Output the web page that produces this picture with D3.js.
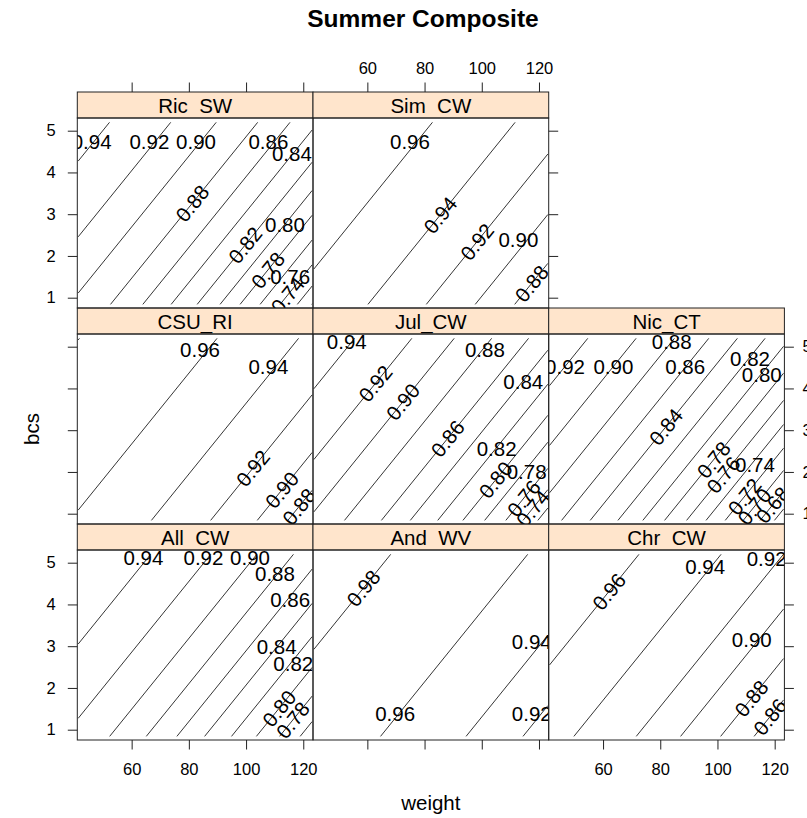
<!DOCTYPE html>
<html>
<head>
<meta charset="utf-8">
<script src="https://cdn.jsdelivr.net/npm/d3@7"></script>
<style>
  body { margin: 0; background: #fff; }
  svg { display: block; }
  text { font-family: "Liberation Sans", Arial, Helvetica, sans-serif; fill: #000; }
</style>
</head>
<body>
<svg id="chart" width="807" height="818"></svg>
<script>
// Panels in lattice order (filled from the bottom-left, row by row)
const panelNames = ["All  CW", "And  WV", "Chr  CW", "CSU_RI", "Jul_CW", "Nic_CT", "Ric  SW", "Sim  CW"];
const panelRow = [2, 2, 2, 1, 1, 1, 0, 0];   // 0 = top row
const panelCol = [0, 1, 2, 0, 1, 2, 0, 1];

const xTicks = [60, 80, 100, 120];
const yTicks = [1, 2, 3, 4, 5];
const xDomain = [41, 123.4];
const yDomain = [0.753, 5.304];
// extent of the fitted grid the contours were traced on
const weightRange = [41.3, 123.1];
const bcsRange = [0.84, 5.2];

// contour levels drawn in each panel
const levels = [
  [0.94, 0.92, 0.90, 0.88, 0.86, 0.84, 0.82, 0.80, 0.78, 0.76],
  [0.98, 0.96, 0.94, 0.92],
  [0.96, 0.94, 0.92, 0.90, 0.88, 0.86],
  [0.98, 0.96, 0.94, 0.92, 0.90, 0.88],
  [0.94, 0.92, 0.90, 0.88, 0.86, 0.84, 0.82, 0.80, 0.78, 0.76, 0.74, 0.72],
  [0.92, 0.90, 0.88, 0.86, 0.84, 0.82, 0.80, 0.78, 0.76, 0.74, 0.72, 0.70, 0.68, 0.66],
  [0.94, 0.92, 0.90, 0.88, 0.86, 0.84, 0.82, 0.80, 0.78, 0.76, 0.74, 0.72, 0.70],
  [0.96, 0.94, 0.92, 0.90, 0.88]
];
// weight at which each contour level crosses bcs = 5
const weightAtBcs5 = [
  [64.3, 85.3, 101.4, 114.2, 124.9, 134.6, 144.0, 152.7, 160.8, 168.0],
  [65.8, 113.7, 143.6, 163.5],
  [70.2, 98.9, 120.7, 136.2, 150.2, 161.9],
  [39.4, 87.5, 116.0, 136.7, 153.0, 163.7],
  [53.2, 73.2, 88.0, 101.1, 114.0, 124.1, 133.7, 142.5, 150.1, 157.5, 163.5, 168.7],
  [52.3, 69.2, 82.6, 94.6, 104.6, 114.3, 123.0, 130.6, 138.3, 145.1, 151.8, 158.1, 164.0, 169.0],
  [49.9, 71.3, 87.2, 101.7, 113.0, 122.9, 132.0, 140.0, 147.0, 154.0, 161.0, 167.0, 172.0],
  [80.4, 109.3, 129.7, 146.8, 160.6]
];
// change in weight per unit of bcs along the contours of each panel
const contourSlope = [11.8, 11.8, 11.8, 11.8, 11.8, 11.8, 11.8, 11.8];

// contour labels: [level, weight, bcs, rotated along the line]
const contourLabels = [
  [[0.94, 64.1, 5.13, 0], [0.92, 85.1, 5.13, 0], [0.90, 101.4, 5.13, 0], [0.88, 110.1, 4.74, 0],
   [0.86, 115.4, 4.12, 0], [0.84, 110.7, 2.99, 0], [0.82, 116.5, 2.59, 0], [0.80, 112.4, 1.51, 1],
   [0.78, 117.7, 1.23, 1]],
  [[0.98, 57.4, 4.39, 1], [0.96, 69.7, 1.39, 0], [0.94, 117.5, 3.11, 0], [0.92, 117.5, 1.39, 0]],
  [[0.96, 58.9, 4.31, 1], [0.94, 95.7, 4.90, 0], [0.92, 117.2, 5.10, 0], [0.90, 112.0, 3.15, 0],
   [0.88, 108.5, 1.75, 1], [0.86, 116.0, 1.31, 1]],
  [[0.96, 83.9, 4.94, 0], [0.94, 107.8, 4.52, 0], [0.92, 100.2, 2.09, 1], [0.90, 110.7, 1.57, 1],
   [0.88, 118.3, 1.17, 1]],
  [[0.94, 52.8, 5.12, 0], [0.92, 61.5, 4.12, 1], [0.90, 72.6, 3.68, 1], [0.88, 101.1, 4.94, 0],
   [0.86, 88.3, 2.80, 1], [0.84, 114.5, 4.16, 0], [0.82, 105.2, 2.56, 0], [0.80, 105.2, 1.81, 1],
   [0.78, 115.7, 2.01, 0], [0.76, 115.1, 1.37, 1], [0.74, 118.6, 1.13, 1]],
  [[0.92, 46.7, 4.52, 0], [0.90, 63.6, 4.52, 0], [0.88, 84.0, 5.12, 0], [0.86, 88.7, 4.52, 0],
   [0.84, 82.2, 3.08, 1], [0.82, 111.4, 4.72, 0], [0.80, 115.5, 4.32, 0], [0.78, 98.6, 2.29, 1],
   [0.76, 101.5, 1.93, 1], [0.74, 113.1, 2.17, 0], [0.72, 110.8, 1.41, 1], [0.70, 114.9, 1.17, 1],
   [0.68, 120.1, 1.21, 1]],
  [[0.94, 46.0, 4.74, 0], [0.92, 66.2, 4.74, 0], [0.90, 82.5, 4.74, 0], [0.88, 79.8, 3.26, 1],
   [0.86, 107.8, 4.74, 0], [0.84, 116.0, 4.46, 0], [0.82, 98.5, 2.26, 1], [0.80, 113.6, 2.74, 0],
   [0.78, 107.2, 1.66, 1], [0.76, 115.4, 1.50, 0], [0.74, 116.5, 1.06, 1]],
  [[0.96, 74.9, 4.74, 0], [0.94, 83.1, 2.98, 1], [0.92, 95.9, 2.34, 1], [0.90, 112.8, 2.38, 0],
   [0.88, 115.1, 1.34, 1]]
];

// ---- layout ----
const frameLeft = 77.3, colW = 235.7, firstTop = 92, stripH = 26, panelH = 190;
const rowPitch = stripH + panelH;
const ink = "#222";
const tickLen = 9.5;

const svg = d3.select("#chart");
const x = d3.scaleLinear().domain(xDomain).range([0, colW]);
const y = d3.scaleLinear().domain(yDomain).range([panelH, 0]);
const fmt = d3.format(".2f");

svg.append("text")
  .attr("x", 423).attr("y", 27)
  .attr("text-anchor", "middle")
  .style("font-weight", "bold").style("font-size", "24.5px")
  .text("Summer Composite");

const defs = svg.append("defs");
defs.append("clipPath").attr("id", "panelClip")
  .append("rect").attr("x", 0).attr("y", 0).attr("width", colW).attr("height", panelH);

function styleAxis(g) {
  g.select(".domain").remove();
  g.selectAll(".tick line").attr("stroke", ink);
  g.selectAll(".tick text")
    .style("font-size", "16.5px")
    .style("font-family", "'Liberation Sans', Arial, sans-serif")
    .attr("fill", "#000");
}

panelNames.forEach((name, i) => {
  const r = panelRow[i], c = panelCol[i];
  const gx = frameLeft + c * colW;
  const stripTop = firstTop + r * rowPitch;
  const top = stripTop + stripH;

  // strip
  svg.append("rect")
    .attr("x", gx).attr("y", stripTop).attr("width", colW).attr("height", stripH)
    .attr("fill", "#FFE5CC").attr("stroke", ink).attr("stroke-width", 1);
  svg.append("text")
    .attr("x", gx + colW / 2).attr("y", stripTop + 21.3)
    .attr("text-anchor", "middle")
    .style("font-size", "20.5px").style("white-space", "pre")
    .attr("xml:space", "preserve")
    .text(name);

  const g = svg.append("g").attr("transform", `translate(${gx},${top})`);
  const inner = g.append("g").attr("clip-path", "url(#panelClip)");

  // contour lines
  const s = contourSlope[i];
  const lineGen = d3.line().x(d => x(d[0])).y(d => y(d[1]));
  levels[i].forEach((lv, k) => {
    const w5 = weightAtBcs5[i][k];
    let b0 = Math.max(bcsRange[0], 5 + (weightRange[0] - w5) / s);
    let b1 = Math.min(bcsRange[1], 5 + (weightRange[1] - w5) / s);
    if (b1 <= b0) return;
    const pts = [[w5 + s * (b0 - 5), b0], [w5 + s * (b1 - 5), b1]];
    inner.append("path")
      .attr("d", lineGen(pts))
      .attr("fill", "none").attr("stroke", "#000").attr("stroke-width", 0.8);
  });

  // contour labels
  const angle = Math.atan2(y(1) - y(0), x(xDomain[0] + s) - x(xDomain[0])) * 180 / Math.PI;
  contourLabels[i].forEach(([lv, w, b, rot]) => {
    const k = levels[i].indexOf(lv);
    const wx = rot ? weightAtBcs5[i][k] + s * (b - 5) : w;
    const px = x(wx), py = y(b);
    inner.append("text")
      .attr("transform", `translate(${px},${py})` + (rot ? ` rotate(${angle})` : ""))
      .attr("text-anchor", "middle").attr("dy", "0.36em")
      .style("font-size", "20.5px")
      .text(fmt(lv));
  });

  // panel border
  g.append("rect").attr("width", colW).attr("height", panelH)
    .attr("fill", "none").attr("stroke", ink).attr("stroke-width", 1);

  // left axis on first column
  if (c === 0) {
    const ax = d3.axisLeft(y).tickValues(yTicks).tickSize(tickLen).tickPadding(12)
      .tickFormat(r === 1 ? () => "" : d3.format("d"));
    g.append("g").call(ax).call(styleAxis);
  }
  // right axis on the last panel of each row
  const lastInRow = (r === 0 && c === 1) || c === 2;
  if (lastInRow) {
    const ax = d3.axisRight(y).tickValues(yTicks).tickSize(tickLen).tickPadding(8.5)
      .tickFormat(r === 1 ? d3.format("d") : () => "");
    g.append("g").attr("transform", `translate(${colW},0)`).call(ax).call(styleAxis);
  }
  // top axis on the top row
  if (r === 0) {
    const ax = d3.axisTop(x).tickValues(xTicks).tickSize(tickLen).tickPadding(8.5)
      .tickFormat(c === 1 ? d3.format("d") : () => "");
    g.append("g").attr("transform", `translate(0,${-stripH})`).call(ax).call(styleAxis);
  }
  // bottom axis on the bottom row
  if (r === 2) {
    const ax = d3.axisBottom(x).tickValues(xTicks).tickSize(tickLen).tickPadding(13.5)
      .tickFormat(c === 1 ? () => "" : d3.format("d"));
    g.append("g").attr("transform", `translate(0,${panelH})`).call(ax).call(styleAxis);
  }
});

// axis titles
svg.append("text")
  .attr("x", frameLeft + 1.5 * colW).attr("y", 810)
  .attr("text-anchor", "middle").style("font-size", "20.5px")
  .text("weight");
svg.append("text")
  .attr("transform", `translate(39,${firstTop + stripH + (2 * rowPitch + panelH) / 2}) rotate(-90)`)
  .attr("text-anchor", "middle").style("font-size", "20.5px")
  .text("bcs");
</script>
</body>
</html>
